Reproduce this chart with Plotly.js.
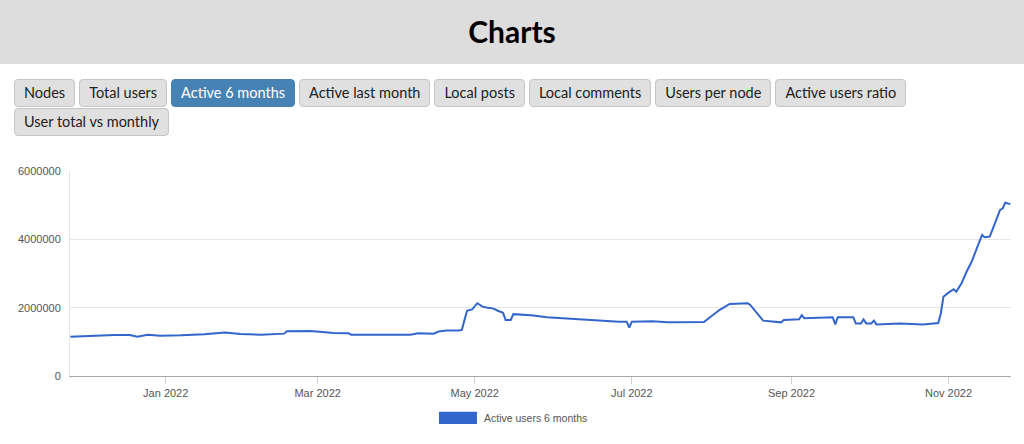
<!DOCTYPE html>
<html>
<head>
<meta charset="utf-8">
<script src="https://cdn.plot.ly/plotly-3.0.1.min.js"></script>
<style>
  html, body { margin: 0; padding: 0; width: 1024px; height: 444px; overflow: hidden; background: #fff; }
  #header { position: absolute; left: 0; top: 0; width: 1024px; height: 64px; background: #dddddd;
            font-family: Lato, sans-serif; font-weight: bold; font-size: 30px; color: #000;
            text-align: center; line-height: 62px; }
  #buttons { position: absolute; left: 14px; top: 79px; width: 1000px; font-size: 0; }
  #buttons button { display: inline-block; font-family: Lato, sans-serif; font-size: 14.5px; color: #222;
            background: #e0e0e0; border: 1px solid #c6c6c6; border-radius: 4px; height: 28px;
            padding: 0 9px; margin: 0 4px 1px 0; vertical-align: top; line-height: 26px; }
  #buttons button.active { background: #4682b4; color: #fff; border-color: #4682b4; }
  #chart { position: absolute; left: 0; top: 140px; width: 1024px; height: 304px; }
</style>
</head>
<body>
<div id="header">Charts</div>
<div id="buttons"></div>
<div id="chart"></div>
<script>
const tabLabels = ["Nodes", "Total users", "Active 6 months", "Active last month", "Local posts",
  "Local comments", "Users per node", "Active users ratio", "User total vs monthly"];
const activeTab = "Active 6 months";

const seriesName = "Active users 6 months";

const dates = [
  "2021-11-25","2021-11-29","2021-12-01","2021-12-12","2021-12-18","2021-12-21","2021-12-25","2021-12-30",
  "2022-01-07","2022-01-16","2022-01-24","2022-01-30","2022-02-07","2022-02-16","2022-02-17","2022-02-26",
  "2022-03-03","2022-03-07","2022-03-13","2022-03-14","2022-03-25","2022-04-06","2022-04-09","2022-04-15",
  "2022-04-17","2022-04-20","2022-04-25","2022-04-26","2022-04-28","2022-04-30","2022-05-02","2022-05-04",
  "2022-05-06","2022-05-08","2022-05-10","2022-05-12","2022-05-13","2022-05-15","2022-05-16","2022-05-23",
  "2022-05-29","2022-06-14","2022-06-26","2022-06-29","2022-06-30","2022-07-01","2022-07-09","2022-07-15",
  "2022-07-29","2022-08-04","2022-08-08","2022-08-15","2022-08-16","2022-08-21","2022-08-28","2022-08-29",
  "2022-09-04","2022-09-05","2022-09-06","2022-09-17","2022-09-18","2022-09-19","2022-09-25","2022-09-26",
  "2022-09-28","2022-09-29","2022-09-30","2022-10-02","2022-10-03","2022-10-04","2022-10-13","2022-10-22",
  "2022-10-28","2022-10-29","2022-10-30","2022-11-01","2022-11-03","2022-11-04","2022-11-06","2022-11-08",
  "2022-11-10","2022-11-12","2022-11-13","2022-11-14","2022-11-15","2022-11-17","2022-11-19","2022-11-21",
  "2022-11-22","2022-11-23","2022-11-25"
];
const activeUsers6m = [
  1150000,1160000,1180000,1200000,1200000,1150000,1210000,1180000,
  1190000,1220000,1270000,1230000,1210000,1240000,1310000,1320000,
  1290000,1260000,1250000,1210000,1210000,1210000,1250000,1240000,
  1300000,1330000,1330000,1350000,1910000,1950000,2130000,2030000,
  2000000,1980000,1910000,1850000,1640000,1640000,1810000,1780000,
  1720000,1640000,1590000,1590000,1420000,1590000,1600000,1570000,
  1580000,1930000,2110000,2130000,2080000,1620000,1570000,1640000,
  1660000,1780000,1690000,1720000,1510000,1720000,1720000,1540000,
  1540000,1660000,1540000,1540000,1620000,1510000,1540000,1510000,
  1550000,1830000,2320000,2440000,2540000,2470000,2710000,3050000,
  3350000,3740000,3930000,4130000,4060000,4080000,4470000,4860000,
  4900000,5070000,5030000
];

const xTickVals = ["2022-01-01","2022-03-01","2022-05-01","2022-07-01","2022-09-01","2022-11-01"];
const xTickText = ["Jan 2022","Mar 2022","May 2022","Jul 2022","Sep 2022","Nov 2022"];
const yTickVals = [0, 2000000, 4000000, 6000000];

// tabs
const btnWrap = document.getElementById("buttons");
tabLabels.forEach(function (t) {
  const b = document.createElement("button");
  b.textContent = t;
  if (t === activeTab) b.className = "active";
  btnWrap.appendChild(b);
});

const trace = {
  type: "scatter", mode: "lines", x: dates, y: activeUsers6m, name: seriesName,
  line: { color: "#3366cc", width: 2 }, showlegend: false, hoverinfo: "skip"
};

const layout = {
  width: 1024, height: 304,
  margin: { l: 70, r: 13, t: 31, b: 68 },
  paper_bgcolor: "#fff", plot_bgcolor: "#fff",
  font: { family: "Arial, 'Liberation Sans', sans-serif", size: 11, color: "#555" },
  showlegend: false,
  xaxis: {
    type: "date", range: ["2021-11-24 20:00", "2022-11-25 06:00"],
    tickmode: "array", tickvals: xTickVals, ticktext: xTickText,
    ticks: "outside", ticklen: 7, tickcolor: "#d0d0d0", tickwidth: 1,
    showgrid: false, showline: true, linecolor: "#a8a8a8", linewidth: 1, zeroline: false,
    tickfont: { size: 11, color: "#555" }
  },
  yaxis: {
    range: [0, 6000000], tickmode: "array", tickvals: yTickVals, tickformat: "d",
    ticks: "outside", ticklen: 6, tickcolor: "rgba(0,0,0,0)",
    showgrid: true, gridcolor: "#e6e6e6", gridwidth: 1,
    showline: true, linecolor: "#e6e6e6", zeroline: false,
    tickfont: { size: 11, color: "#555" }
  },
  shapes: [{
    type: "rect", xref: "paper", yref: "paper",
    x0: 0.3921, x1: 0.4325, y0: -0.234, y1: -0.174,
    fillcolor: "#3366cc", line: { width: 0 }
  }],
  annotations: [{
    xref: "paper", yref: "paper", x: 0.4378, y: -0.204, xanchor: "left", yanchor: "middle",
    text: seriesName, showarrow: false, font: { size: 10.5, color: "#555" }
  }]
};

Plotly.newPlot("chart", [trace], layout, { staticPlot: true, displayModeBar: false });
</script>
</body>
</html>
